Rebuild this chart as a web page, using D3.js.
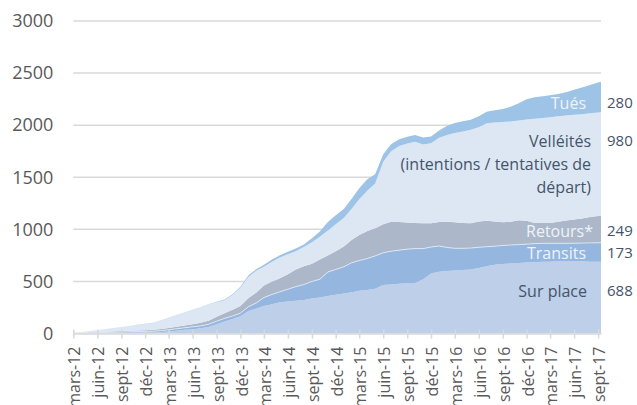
<!DOCTYPE html>
<html>
<head>
<meta charset="utf-8">
<script src="https://cdn.jsdelivr.net/npm/d3@7"></script>
<style>
  body { margin: 0; background: #fff; }
  svg { display: block; font-family: "Open Sans", sans-serif; }
  .grid line { stroke: #d9d9d9; stroke-width: 1.5; }
  .x-axis path, .x-axis line { stroke: #d9d9d9; stroke-width: 1.5; }
  .x-axis text, .y-label { fill: #595959; }
</style>
</head>
<body>
<div id="chart"></div>
<script>
// monthly points, last one is mid-September 2017
const dates = [
  "2012-03-01","2012-04-01","2012-05-01","2012-06-01","2012-07-01","2012-08-01","2012-09-01","2012-10-01","2012-11-01","2012-12-01",
  "2013-01-01","2013-02-01","2013-03-01","2013-04-01","2013-05-01","2013-06-01","2013-07-01","2013-08-01","2013-09-01","2013-10-01",
  "2013-11-01","2013-12-01","2014-01-01","2014-02-01","2014-03-01","2014-04-01","2014-05-01","2014-06-01","2014-07-01","2014-08-01",
  "2014-09-01","2014-10-01","2014-11-01","2014-12-01","2015-01-01","2015-02-01","2015-03-01","2015-04-01","2015-05-01","2015-06-01",
  "2015-07-01","2015-08-01","2015-09-01","2015-10-01","2015-11-01","2015-12-01","2016-01-01","2016-02-01","2016-03-01","2016-04-01",
  "2016-05-01","2016-06-01","2016-07-01","2016-08-01","2016-09-01","2016-10-01","2016-11-01","2016-12-01","2017-01-01","2017-02-01",
  "2017-03-01","2017-04-01","2017-05-01","2017-06-01","2017-07-01","2017-08-01","2017-09-01","2017-09-12"
]

const surPlace = [
  1,2,3,4,5,6,7,8,9,10,
  10,14,20,27,35,42,50,62,90,115,
  140,165,215,240,265,280,300,308,315,322,
  335,345,360,372,385,395,410,418,430,466,
  470,478,482,485,520,575,594,600,605,610,
  614,630,645,660,667,672,678,682,685,688,
  690,694,696,695,693,690,688,689
]
const transits = [
  1,2,3,4,5,6,7,8,9,10,
  12,14,16,18,20,22,23,26,28,30,
  28,30,43,55,80,95,100,117,135,148,
  165,175,230,243,255,285,290,302,315,309,
  320,322,328,330,295,255,246,225,213,208,
  206,198,188,178,178,178,175,176,178,178,
  176,172,170,172,175,180,183,183
]
const retours = [
  1,2,3,6,7,8,9,10,11,12,
  14,16,18,20,23,26,31,34,42,50,
  60,70,82,100,115,125,130,145,165,175,
  170,190,160,175,195,220,245,265,265,275,
  283,270,255,245,243,228,230,248,250,244,
  238,247,249,237,223,223,235,224,199,194,
  196,206,219,228,237,248,257,259
]
const velleites = [
  2,8,15,19,26,32,39,46,53,60,
  66,81,96,110,122,135,146,156,140,125,
  142,175,205,210,180,190,200,190,175,185,
  205,220,240,260,275,300,345,385,430,600,
  677,730,760,780,757,768,810,832,857,878,
  897,905,936,950,962,963,957,973,1000,1008,
  1013,1013,1007,1005,1001,997,994,993
]
const tues = [
  0,1,1,1,1,1,1,1,1,1,
  2,2,2,2,2,3,3,4,5,6,
  8,8,15,15,20,20,22,25,25,25,
  40,50,80,85,85,95,105,110,90,70,
  68,65,65,65,66,65,70,90,96,97,
  98,105,112,118,125,140,165,195,205,210,
  212,215,225,240,255,270,288,293
]

const keys = ["surPlace", "transits", "retours", "velleites", "tues"]
const colors = ["#bdcfe9", "#95b6df", "#acb8c9", "#dde7f4", "#9dc3e6"]

const yTicks = [0, 500, 1000, 1500, 2000, 2500, 3000]
const monthNames = ["janv", "févr", "mars", "avr", "mai", "juin", "juil", "août", "sept", "oct", "nov", "déc"]

// series labels inside the areas and the final values on the right
const innerLabels = [
  { lines: ["Tués"], value: 280, color: "#eef3fa" },
  { lines: ["Velléités", "(intentions / tentatives de", "départ)"], value: 980, color: "#44546a" },
  { lines: ["Retours*"], value: 249, color: "#eef3fa" },
  { lines: ["Transits"], value: 173, color: "#eef3fa" },
  { lines: ["Sur place"], value: 688, color: "#44546a" },
]
const labelY = [103, 141, 231, 253, 291]
const labelRight = [586, 591, 593, 586, 587]

const parseDate = d3.timeParse("%Y-%m-%d")
const dataset = dates.map((d, i) => ({
  date: parseDate(d),
  surPlace: surPlace[i],
  transits: transits[i],
  retours: retours[i],
  velleites: velleites[i],
  tues: tues[i],
}))

let dimensions = {
  width: 637,
  height: 405,
  margin: { top: 21, right: 36, bottom: 71.5, left: 73.3 },
}
dimensions.boundedWidth = dimensions.width - dimensions.margin.left - dimensions.margin.right
dimensions.boundedHeight = dimensions.height - dimensions.margin.top - dimensions.margin.bottom

const wrapper = d3.select("#chart")
  .append("svg")
    .attr("width", dimensions.width)
    .attr("height", dimensions.height)

const bounds = wrapper.append("g")
    .attr("transform", `translate(${dimensions.margin.left}, ${dimensions.margin.top})`)

const xAccessor = d => d.date

const xScale = d3.scaleTime()
  .domain(d3.extent(dataset, xAccessor))
  .range([0, dimensions.boundedWidth])

const yScale = d3.scaleLinear()
  .domain([0, 3000])
  .range([dimensions.boundedHeight, 0])

// gridlines + y labels
const grid = bounds.append("g").attr("class", "grid")
grid.selectAll("line")
  .data(yTicks.filter(d => d > 0))
  .join("line")
    .attr("x1", 0)
    .attr("x2", dimensions.boundedWidth)
    .attr("y1", d => yScale(d))
    .attr("y2", d => yScale(d))

bounds.append("g").selectAll("text")
  .data(yTicks)
  .join("text")
    .attr("class", "y-label")
    .attr("x", -20)
    .attr("y", d => yScale(d))
    .attr("dy", "0.35em")
    .attr("text-anchor", "end")
    .style("font-size", "18px")
    .text(d => d)

// stacked areas
const stack = d3.stack().keys(keys)
const series = stack(dataset)

const areaGenerator = d3.area()
  .x(d => xScale(d.data.date))
  .y0(d => yScale(d[0]))
  .y1(d => yScale(d[1]))

bounds.append("g").selectAll("path")
  .data(series)
  .join("path")
    .attr("fill", (d, i) => colors[i])
    .attr("d", areaGenerator)

// faint light edge on top of the transits layer
const edgeGenerator = d3.line()
  .x(d => xScale(d.data.date))
  .y(d => yScale(d[1]))

bounds.append("path")
    .attr("fill", "none")
    .attr("stroke", "#e6edf6")
    .attr("stroke-width", 0.8)
    .attr("d", edgeGenerator(series[1]))

// x axis: a tick every 3 months from mars-12
const tickDates = d3.timeMonth.range(new Date(2012, 2, 1), new Date(2017, 9, 1), 3)
const xAxisGenerator = d3.axisBottom(xScale)
  .tickValues(tickDates)
  .tickSizeInner(5)
  .tickSizeOuter(0)
  .tickFormat(d => `${monthNames[d.getMonth()]}-${d3.timeFormat("%y")(d)}`)

const xAxis = bounds.append("g")
    .attr("class", "x-axis")
    .attr("transform", `translate(0, ${dimensions.boundedHeight})`)
  .call(xAxisGenerator)

xAxis.selectAll(".tick line").attr("y1", -4)
xAxis.selectAll("text")
    .attr("transform", "rotate(-90)")
    .attr("x", -13)
    .attr("y", 1)
    .attr("dy", "0.35em")
    .attr("text-anchor", "end")
    .style("font-size", "16px")
    .style("font-family", "Open Sans, sans-serif")

// labels
innerLabels.forEach((l, i) => {
  l.lines.forEach((line, j) => {
    wrapper.append("text")
      .attr("x", labelRight[i])
      .attr("y", labelY[i] + j * 23)
      .attr("dy", "0.35em")
      .attr("text-anchor", "end")
      .attr("fill", l.color)
      .style("font-size", "16px")
      .text(line)
  })
  wrapper.append("text")
    .attr("x", 607)
    .attr("y", labelY[i])
    .attr("dy", "0.35em")
    .attr("fill", "#44546a")
    .style("font-size", "15px")
    .text(l.value)
})
</script>
</body>
</html>
